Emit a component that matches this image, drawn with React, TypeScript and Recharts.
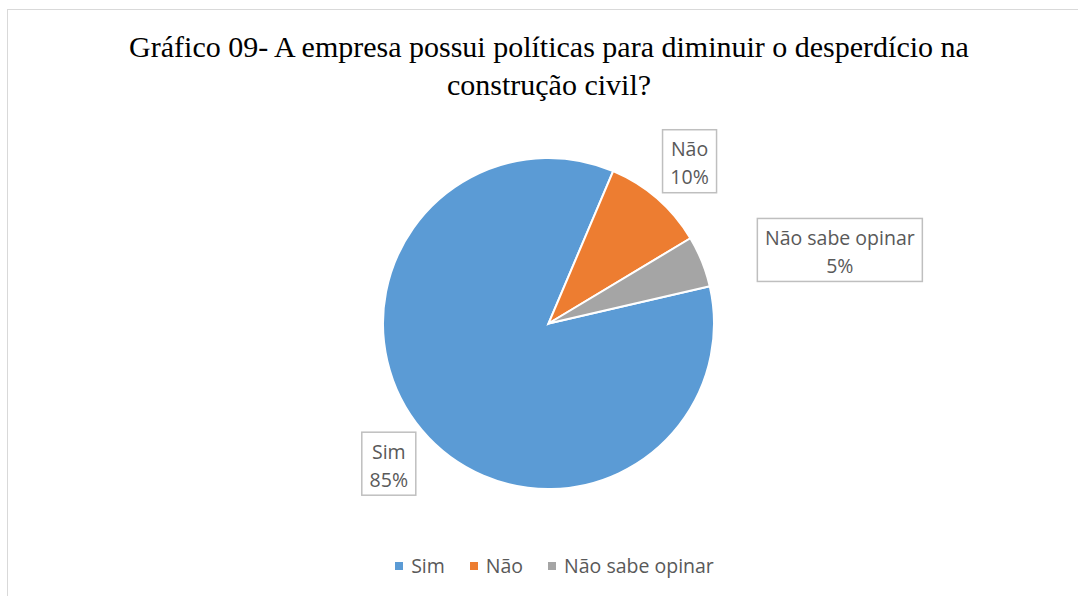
import { PieChart, Pie, Cell, Legend } from "recharts";

const categories = ["Sim", "Não", "Não sabe opinar"];
const percentages = [85, 10, 5];
const sliceColors = ["#5B9BD5", "#ED7D31", "#A5A5A5"];

const data = categories.map((name, i) => ({ name, value: percentages[i], color: sliceColors[i] }));

const RADIAN = Math.PI / 180;
const labelFont = "'Open Sans', 'Noto Sans', sans-serif";
// extra nudge for label boxes that Excel pushed sideways
const labelNudge: Record<string, { dx: number; dy: number }> = {
  "Não sabe opinar": { dx: 92, dy: 7 },
  Sim: { dx: 5, dy: 2 },
};

function BoxLabel(props: any) {
  const { cx, cy, midAngle, name, value } = props;
  const r = 215;
  const nudge = labelNudge[name] ?? { dx: 0, dy: 0 };
  const x = cx + r * Math.cos(-midAngle * RADIAN) + nudge.dx;
  const y = cy + r * Math.sin(-midAngle * RADIAN) + nudge.dy;
  const w = name.length > 4 ? 165 : 54;
  const h = 63;
  return (
    <g>
      <rect x={x - w / 2} y={y - h / 2} width={w} height={h} fill="#fff" stroke="#bfbfbf" strokeWidth={1.5} />
      <text x={x} y={y - 5} textAnchor="middle" fill="#595959" fontSize={19.5} fontFamily={labelFont}>
        {name}
      </text>
      <text x={x} y={y + 23} textAnchor="middle" fill="#595959" fontSize={19.5} fontFamily={labelFont}>
        {value}%
      </text>
    </g>
  );
}

function LegendContent() {
  return (
    <div style={{ display: "flex", justifyContent: "center", fontFamily: labelFont, fontSize: 19.5, color: "#595959", paddingLeft: 56 }}>
      {data.map((d) => (
        <div key={d.name} style={{ display: "flex", alignItems: "center", marginRight: 25 }}>
          <span style={{ width: 8, height: 8, background: d.color, display: "inline-block", marginRight: 8 }} />
          <span>{d.name}</span>
        </div>
      ))}
    </div>
  );
}

export default function App() {
  return (
    <div style={{ position: "absolute", left: 0, top: 0, width: 1078, height: 596, overflow: "hidden", background: "#fff" }}>
      <style>{`body{overflow:hidden}`}</style>
      <div style={{ position: "absolute", left: 7, top: 9, width: 1100, height: 620, border: "1px solid #d9d9d9" }} />
      <div
        style={{
          position: "absolute",
          left: 0,
          top: 28,
          width: 1098,
          textAlign: "center",
          fontFamily: "'Liberation Serif', 'Times New Roman', serif",
          fontSize: 30,
          lineHeight: "38px",
          color: "#000",
        }}
      >
        Gráfico 09- A empresa possui políticas para diminuir o desperdício na
        <br />
        construção civil?
      </div>
      <div style={{ position: "absolute", left: 0, top: 0 }}>
        <PieChart width={1078} height={596}>
          <Pie
            data={data}
            dataKey="value"
            nameKey="name"
            cx={543.5}
            cy={318.5}
            outerRadius={165.5}
            startAngle={13}
            endAngle={-347}
            stroke="#fff"
            strokeWidth={2}
            labelLine={false}
            label={BoxLabel}
            isAnimationActive={false}
          >
            {data.map((d) => (
              <Cell key={d.name} fill={d.color} />
            ))}
          </Pie>
          <Legend content={LegendContent} wrapperStyle={{ top: 552, left: 0, width: 1078 }} />
        </PieChart>
      </div>
    </div>
  );
}
